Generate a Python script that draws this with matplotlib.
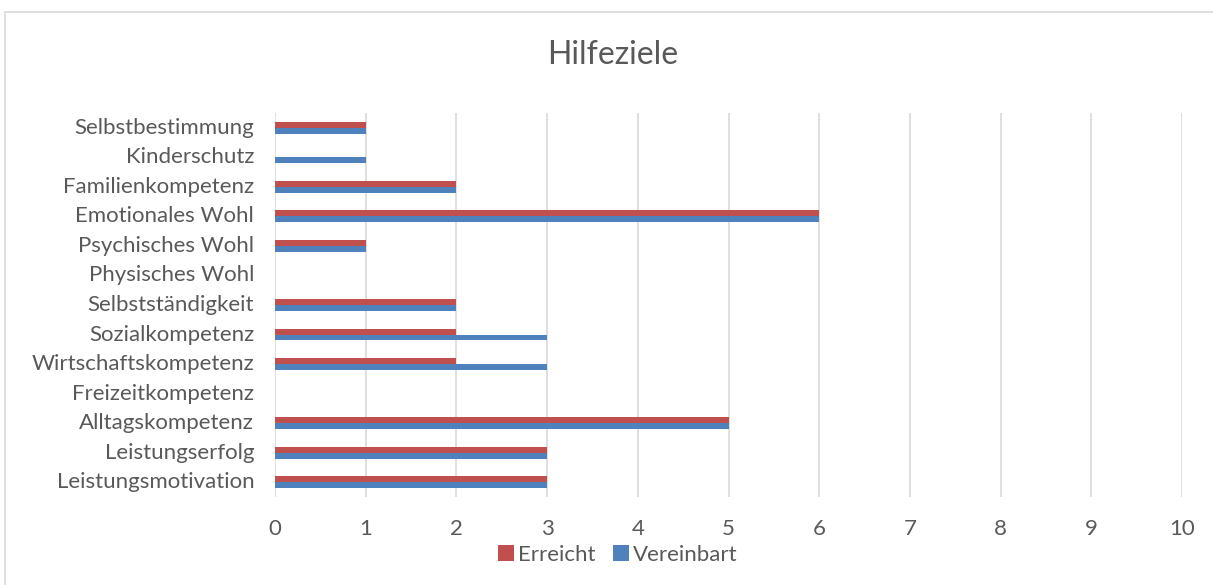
import matplotlib
matplotlib.use("Agg")
import matplotlib.pyplot as plt
import numpy as np
from matplotlib.patches import Rectangle

categories = ["Leistungsmotivation", "Leistungserfolg", "Alltagskompetenz", "Freizeitkompetenz",
              "Wirtschaftskompetenz", "Sozialkompetenz", "Selbstständigkeit", "Physisches Wohl",
              "Psychisches Wohl", "Emotionales Wohl", "Familienkompetenz", "Kinderschutz",
              "Selbstbestimmung"]
erreicht = [3, 3, 5, 0, 2, 2, 2, 0, 1, 6, 2, 0, 1]
vereinbart = [3, 3, 5, 0, 3, 3, 2, 0, 1, 6, 2, 1, 1]
x_ticks = list(range(0, 11))

plt.rcParams['font.family'] = ['Lato', 'DejaVu Sans']
text_col = "#595959"

fig = plt.figure(figsize=(12.13, 5.85), dpi=100)
fig.patches.append(Rectangle((5/1213, -0.1), 1.2, (585-12)/585 + 0.1, transform=fig.transFigure,
                             fill=False, edgecolor="#D9D9D9", linewidth=1.2))
ax = fig.add_axes([275/1213, 88/585, (1182-275)/1213, (497-113)/585])

y = np.arange(len(categories))
h = 0.2
ax.barh(y + h/2, erreicht, height=h, color="#C0504D", label="Erreicht", zorder=3)
ax.barh(y - h/2, vereinbart, height=h, color="#4F81BD", label="Vereinbart", zorder=3)

ax.set_xlim(0, 10)
ax.set_ylim(-0.5, len(categories) - 0.5)
ax.set_xticks(x_ticks)
ax.set_yticks(y)
ax.set_yticklabels(categories)
ax.tick_params(axis='both', length=0, labelsize=16, colors=text_col)
ax.tick_params(axis='x', pad=16)
ax.tick_params(axis='y', pad=15)
for lab in ax.get_yticklabels():
    lab.set_verticalalignment('center')
ax.grid(axis='x', color="#D9D9D9", linewidth=1.2, zorder=0)
for s in ax.spines.values():
    s.set_visible(False)

fig.text(613/1213, 1 - 55/585, "Hilfeziele", ha='center', va='center', fontsize=23, color=text_col)

handles, labels = ax.get_legend_handles_labels()
fig.legend(handles, labels, loc='center', bbox_to_anchor=(618/1213, 1 - 555/585), ncol=2,
           frameon=False, fontsize=16, labelcolor=text_col, handlelength=0.7, handleheight=0.7,
           handletextpad=0.2, columnspacing=0.8)

fig.savefig("out.png", dpi=100)
